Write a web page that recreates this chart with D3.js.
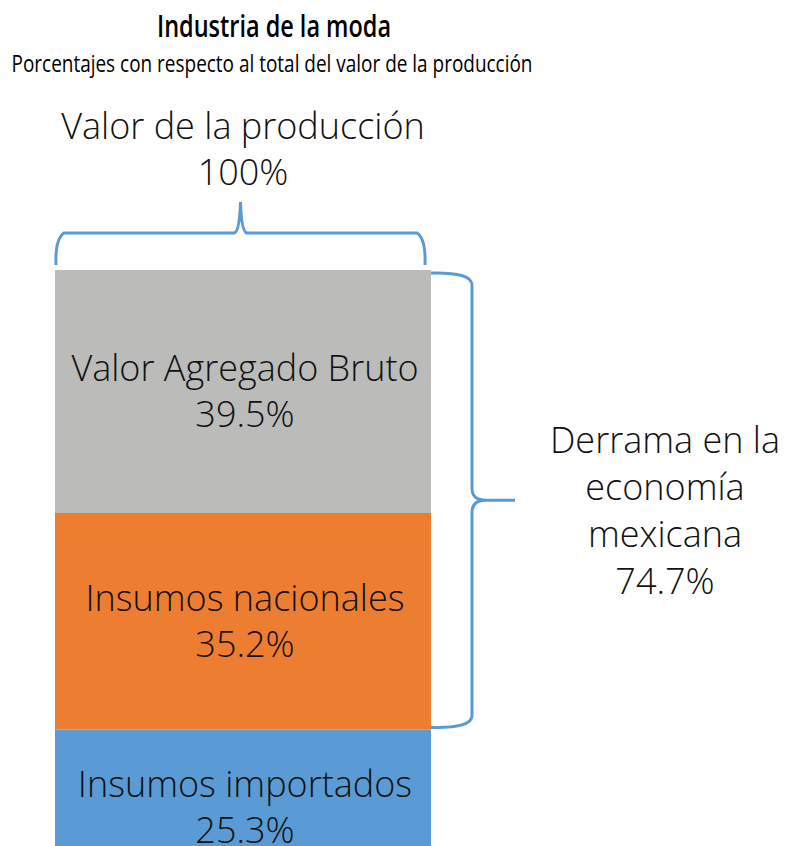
<!DOCTYPE html>
<html>
<head>
<meta charset="utf-8">
<script src="https://cdn.jsdelivr.net/npm/d3@7"></script>
<style>
  body { margin: 0; background: #fff; }
  .title { font-family: "Open Sans", "Liberation Sans Narrow", sans-serif; fill: #000; }
  .lbl { font-family: "Open Sans", Lato, sans-serif; font-weight: 300; fill: #111; }
</style>
</head>
<body>
<script>
// data
var segments = ["Valor Agregado Bruto", "Insumos nacionales", "Insumos importados"];
var shares = [39.5, 35.2, 25.3];
var segColors = ["#bbbbba", "#ed7d31", "#5b9bd5"];
var totalLabel = ["Valor de la producción", "100%"];
var derramaLabel = ["Derrama en la", "economía", "mexicana"];
var derramaShare = 74.7;
var titleText = "Industria de la moda";
var subtitleText = "Porcentajes con respecto al total del valor de la producción";

var width = 793,
  height = 846,
  barTop = 270,
  pxPerPct = 6.15,
  fontSize = 36,
  lineGap = 46;

var svg = d3
  .select("body")
  .append("svg")
  .attr("width", width)
  .attr("height", height);

var y = d3
  .scaleLinear()
  .domain([0, 100])
  .range([barTop, barTop + 100 * pxPerPct]);

var x = d3.scaleBand().domain(["prod"]).range([55, 431]).padding(0);

var color = d3.scaleOrdinal().domain(segments).range(segColors);

var stacked = [];
var acc = 0;
segments.forEach((s, i) => {
  stacked.push({ name: s, value: shares[i], y0: acc, y1: acc + shares[i] });
  acc += shares[i];
});

// title (condensed look via textLength)
svg
  .append("text")
  .attr("class", "title")
  .attr("x", 274)
  .attr("y", 37)
  .attr("text-anchor", "middle")
  .attr("font-size", 31)
  .attr("font-weight", 600)
  .attr("textLength", 234)
  .attr("lengthAdjust", "spacingAndGlyphs")
  .text(titleText);

svg
  .append("text")
  .attr("class", "title")
  .attr("x", 272)
  .attr("y", 72)
  .attr("text-anchor", "middle")
  .attr("font-size", 23)
  .attr("font-weight", 500)
  .attr("textLength", 521)
  .attr("lengthAdjust", "spacingAndGlyphs")
  .text(subtitleText);

// bar segments
svg
  .selectAll("rect.seg")
  .data(stacked)
  .enter()
  .append("rect")
  .attr("class", "seg")
  .attr("x", x("prod"))
  .attr("width", x.bandwidth())
  .attr("y", (d) => y(d.y0))
  .attr("height", (d) => y(d.y1) - y(d.y0))
  .attr("fill", (d) => color(d.name));

var midX = x("prod") + x.bandwidth() / 2 + 2;

var segLabels = svg
  .selectAll("text.seglbl")
  .data(stacked)
  .enter()
  .append("text")
  .attr("class", "lbl seglbl")
  .attr("text-anchor", "middle")
  .attr("font-size", fontSize);

segLabels
  .append("tspan")
  .attr("x", midX)
  .attr("y", (d) => (y(d.y0) + y(d.y1)) / 2 - 10)
  .text((d) => d.name);

segLabels
  .append("tspan")
  .attr("x", midX)
  .attr("y", (d) => (y(d.y0) + y(d.y1)) / 2 - 10 + lineGap)
  .text((d) => d.value.toFixed(1) + "%");

// top brace over the whole bar
var bx0 = x("prod") + 1,
  bx1 = x("prod") + x.bandwidth() - 6,
  bxc = (bx0 + bx1) / 2,
  byEnd = barTop - 5,
  byH = 233,
  byTip = 202;

var topBrace = d3.path();
topBrace.moveTo(bx0, byEnd);
topBrace.quadraticCurveTo(bx0 - 1, byH + 6, bx0 + 8, byH);
topBrace.lineTo(bxc - 6, byH);
topBrace.quadraticCurveTo(bxc - 1, byH - 2, bxc, byTip);
topBrace.quadraticCurveTo(bxc + 1, byH - 2, bxc + 6, byH);
topBrace.lineTo(bx1 - 8, byH);
topBrace.quadraticCurveTo(bx1 + 1, byH + 6, bx1, byEnd);

svg
  .append("path")
  .attr("d", topBrace.toString())
  .attr("fill", "none")
  .attr("stroke", "#5b9bd5")
  .attr("stroke-width", 3);

var topLbl = svg
  .append("text")
  .attr("class", "lbl")
  .attr("text-anchor", "middle")
  .attr("font-size", fontSize);

topLbl
  .selectAll("tspan")
  .data(totalLabel)
  .enter()
  .append("tspan")
  .attr("x", 243)
  .attr("y", (d, i) => 139 + i * lineGap)
  .text((d) => d);

// right brace over the national part
var rx0 = x("prod") + x.bandwidth(),
  rxV = 472,
  rxTip = 515,
  ry0 = y(0) + 3,
  ry1 = y(derramaShare) - 2,
  ryc = (ry0 + ry1) / 2;

var rightBrace = d3.path();
rightBrace.moveTo(rx0, ry0);
rightBrace.quadraticCurveTo(rxV, ry0 - 1, rxV, ry0 + 12);
rightBrace.lineTo(rxV, ryc - 12);
rightBrace.quadraticCurveTo(rxV, ryc, rxV + 14, ryc);
rightBrace.lineTo(rxTip, ryc);
rightBrace.moveTo(rxV + 14, ryc);
rightBrace.quadraticCurveTo(rxV, ryc, rxV, ryc + 12);
rightBrace.lineTo(rxV, ry1 - 12);
rightBrace.quadraticCurveTo(rxV, ry1 + 1, rx0, ry1);

svg
  .append("path")
  .attr("d", rightBrace.toString())
  .attr("fill", "none")
  .attr("stroke", "#5b9bd5")
  .attr("stroke-width", 3);

var derrama = svg
  .append("text")
  .attr("class", "lbl")
  .attr("text-anchor", "middle")
  .attr("font-size", fontSize);

derrama
  .selectAll("tspan")
  .data(derramaLabel.concat([derramaShare.toFixed(1) + "%"]))
  .enter()
  .append("tspan")
  .attr("x", 665)
  .attr("y", (d, i) => 453 + i * 47)
  .text((d) => d);
</script>
</body>
</html>
